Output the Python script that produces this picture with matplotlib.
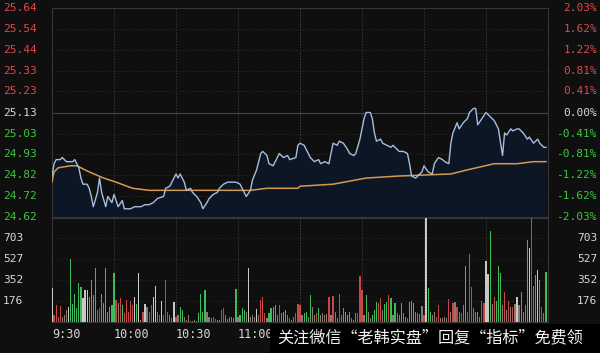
import matplotlib
matplotlib.use('Agg')
import matplotlib.pyplot as plt
import matplotlib.transforms as mtransforms
from matplotlib.patches import Rectangle

# ---------------- data ----------------
prev_close = 25.13
price_labels = ['25.64', '25.54', '25.44', '25.33', '25.23', '25.13',
                '25.03', '24.93', '24.82', '24.72', '24.62']
pct_values = [2.03, 1.62, 1.22, 0.81, 0.41, 0.00,
              -0.41, -0.81, -1.22, -1.62, -2.03]
pct_labels = ['2.03%', '1.62%', '1.22%', '0.81%', '0.41%', '0.00%',
              '-0.41%', '-0.81%', '-1.22%', '-1.62%', '-2.03%']
vol_ticks = [176, 352, 527, 703]
time_ticks = [0, 30, 60, 90]
time_labels = ['9:30', '10:00', '10:30', '11:00']

price_min = [0, 1, 2, 4, 5, 7, 9, 10, 11, 12, 13, 14, 15, 17, 18, 19, 20, 22, 23, 24,
             26, 27, 29, 30, 32, 34, 35, 38, 40, 43, 45, 47, 49, 51, 54, 55, 57, 59, 60, 61,
             62, 64, 65, 67, 68, 70, 72, 73, 75, 76, 78, 80, 81, 83, 85, 89, 91, 93, 94, 96,
             97, 99, 101, 102, 104, 105, 107, 109, 110, 112, 114, 115, 118, 119,
             120, 122, 125, 127, 129, 130, 132, 134, 135, 136, 138, 139, 141, 143, 144, 146,
             147, 149, 151, 152, 154, 155, 156, 157, 159, 160, 162, 164, 165, 167, 168, 170,
             172, 173, 174, 176, 177, 179, 180, 182, 184, 185, 187, 189, 190, 192, 193, 194,
             196, 197, 199, 201, 202, 204, 205, 206, 208, 210, 211, 213, 214, 216, 218, 219,
             220, 222, 223, 225, 226, 228, 230, 231, 233, 235, 236, 238, 239]
price_val = [24.82, 24.88, 24.90, 24.90, 24.91, 24.89, 24.89, 24.89, 24.90, 24.88,
             24.86, 24.81, 24.78, 24.78, 24.76, 24.72, 24.67, 24.74, 24.81, 24.74,
             24.67, 24.72, 24.69, 24.73, 24.67, 24.70, 24.66, 24.66, 24.67, 24.67,
             24.68, 24.68, 24.69, 24.71, 24.72, 24.76, 24.77, 24.81, 24.83, 24.81,
             24.83, 24.79, 24.75, 24.76, 24.74, 24.72, 24.69, 24.66, 24.69, 24.71,
             24.73, 24.74, 24.76, 24.78, 24.79, 24.79, 24.78, 24.74, 24.72, 24.75,
             24.80, 24.85, 24.93, 24.94, 24.92, 24.88, 24.87, 24.91, 24.93, 24.91,
             24.92, 24.90, 24.91, 24.97,
             24.98, 24.97, 24.91, 24.89, 24.90, 24.88, 24.89, 24.88, 24.93, 24.98,
             24.97, 24.99, 24.98, 24.95, 24.93, 24.92, 24.93, 25.00, 25.10, 25.13,
             25.13, 25.10, 25.03, 24.99, 25.00, 24.98, 24.97, 24.96, 24.97, 24.95,
             24.94, 24.94, 24.93, 24.88, 24.82, 24.81, 24.82, 24.84, 24.87, 24.84,
             24.83, 24.88, 24.91, 24.90, 24.89, 24.88, 24.98, 25.03, 25.08, 25.05,
             25.08, 25.10, 25.13, 25.15, 25.15, 25.07, 25.10, 25.13, 25.12, 25.10,
             25.09, 25.05, 24.92, 25.03, 25.02, 25.05, 25.04, 25.05, 25.05, 25.03,
             25.00, 25.01, 24.98, 25.00, 24.98, 24.96, 24.96]

avg_min = [0, 1, 3, 9, 12, 18, 25, 31, 39, 47, 55, 96, 104, 119,
           120, 136, 152, 168, 193, 201, 214, 225, 233, 239]
avg_val = [24.79, 24.84, 24.86, 24.87, 24.87, 24.84, 24.81, 24.79, 24.76, 24.75,
           24.75, 24.75, 24.76, 24.76, 24.77, 24.78, 24.81, 24.82, 24.83, 24.85,
           24.88, 24.88, 24.89, 24.89]

vol_values = [288, 59, 142, 45, 137, 45, 59, 101, 128, 525,
              148, 235, 114, 324, 296, 204, 268, 268, 212, 352,
              226, 455, 101, 114, 232, 156, 455, 87, 128, 142,
              408, 184, 156, 198, 142, 73, 184, 87, 176, 142,
              212, 148, 408, 17, 87, 148, 128, 87, 142, 212,
              305, 87, 59, 176, 59, 352, 87, 59, 31, 165,
              45, 59, 128, 101, 45, 17, 59, 8, 8, 17,
              8, 73, 232, 87, 268, 87, 45, 31, 45, 25,
              17, 17, 101, 114, 59, 25, 45, 45, 31, 277,
              45, 59, 114, 101, 87, 455, 45, 59, 45, 109,
              59, 184, 212, 73, 31, 73, 114, 128, 142, 59,
              142, 73, 87, 101, 59, 31, 17, 45, 73, 148,
              142, 59, 73, 87, 45, 226, 128, 59, 73, 114,
              59, 73, 59, 64, 212, 59, 218, 87, 31, 235,
              59, 120, 87, 59, 87, 31, 17, 73, 73, 386,
              268, 59, 226, 87, 31, 59, 101, 170, 156, 204,
              101, 148, 165, 226, 204, 59, 156, 73, 59, 162,
              73, 45, 31, 170, 176, 156, 87, 73, 64, 137,
              59, 874, 282, 87, 59, 87, 45, 142, 31, 31,
              45, 31, 193, 87, 156, 165, 128, 87, 73, 142,
              472, 87, 570, 296, 114, 87, 81, 45, 176, 156,
              511, 400, 763, 148, 212, 176, 472, 408, 142, 249,
              101, 176, 128, 128, 148, 212, 142, 254, 87, 142,
              687, 623, 874, 305, 394, 436, 352, 128, 73, 416]
vol_colors = ("wrrrrnnnwg" "gggggwwwgg" "ggrrgggggg" "grnrgrrrrr"
              "wgwnrwnrrw" "wnrwrrrnnw" "rnggnnnnnn" "nggggnnnrr"
              "nnrrnnnnng" "ngggnwnnnw" "nrrrnggggn" "rnggnrnnrr"
              "rnggngnnrg" "nnnnrnrnnr" "nggggnnnrr" "rngnngggrr"
              "nggrgngnng" "nnrgggnnnn" "rwggnnrrnn" "nnrnrnrnrn"
              "grrrnngnrr" "wwgnrgggnr" "nrnrnwngnn" "gwrngwgrng")
banner_text = '关注微信“老韩实盘”回复“指标”免费领'

# ---------------- style ----------------
W, H = 600, 353
BG = '#0f0f0f'
RED = '#e04848'
GREEN = '#3cc83c'
WHITE = '#d8d8d8'
bar_cmap = {'r': '#c84646', 'g': '#3cbc5a', 'w': '#c8c8c8', 'n': '#8a7a70'}

fig = plt.figure(figsize=(6, 3.53), dpi=100)
fig.patch.set_facecolor(BG)


def box(x0, y0, x1, y1):
    return [x0 / W, 1 - y1 / H, (x1 - x0) / W, (y1 - y0) / H]


axp = fig.add_axes(box(52, 8, 548, 217))
axv = fig.add_axes(box(52, 218, 548, 322))

lo = prev_close * (1 + pct_values[-1] / 100)
hi = prev_close * (1 + pct_values[0] / 100)
for ax in (axp, axv):
    ax.set_facecolor(BG)
    ax.set_xlim(0, 240)
    ax.set_xticks([])
    ax.set_yticks([])
    for s in ax.spines.values():
        s.set_color('#363636')
        s.set_linewidth(0.8)
    for m in range(30, 240, 30):
        ax.axvline(m, color='#363636' if m != 120 else '#464646',
                   lw=0.7, ls=(0, (1.5, 1.5)), zorder=1)

axp.set_ylim(lo, hi)
tick_pos = [prev_close * (1 + p / 100) for p in pct_values]
for p, y in zip(pct_values, tick_pos):
    if p == 0:
        axp.axhline(y, color='#444444', lw=0.8, zorder=1)
    else:
        axp.axhline(y, color='#272727', lw=0.6, ls=(0, (2, 2)), zorder=1)

axp.fill_between(price_min, price_val, lo, color='#0d1624', zorder=2, lw=0)
axp.plot(price_min, price_val, color='#a6bddf', lw=1.0, zorder=4)
axp.plot(avg_min, avg_val, color='#d59a50', lw=1.1, zorder=3)

axv.set_ylim(0, 870)
for v in vol_ticks:
    axv.axhline(v, color='#222222', lw=0.6, ls=(0, (2, 2)), zorder=1)
axv.bar(range(len(vol_values)), vol_values, width=0.6,
        color=[bar_cmap[c] for c in vol_colors], zorder=3, lw=0)

mono = 'DejaVu Sans Mono'
tp = mtransforms.blended_transform_factory(fig.transFigure, axp.transData)
for lab, pl, p, y in zip(price_labels, pct_labels, pct_values, tick_pos):
    c = RED if p > 0 else (GREEN if p < 0 else WHITE)
    fig.text(3 / W, y, lab, transform=tp, ha='left', va='center',
             color=c, fontsize=8, family=mono)
    fig.text(597 / W, y, pl, transform=tp, ha='right', va='center',
             color=c, fontsize=8, family=mono)

tv = mtransforms.blended_transform_factory(fig.transFigure, axv.transData)
for v in vol_ticks:
    fig.text(3 / W, v, str(v), transform=tv, ha='left', va='center',
             color=WHITE, fontsize=8, family=mono)
    fig.text(597 / W, v, str(v), transform=tv, ha='right', va='center',
             color=WHITE, fontsize=8, family=mono)

tt = mtransforms.blended_transform_factory(axv.transData, fig.transFigure)
for m, lab in zip(time_ticks, time_labels):
    fig.text(m, 1 - 335 / H, lab, transform=tt, ha='left', va='center',
             color=WHITE, fontsize=8.5, family=mono, zorder=2)

fig.add_artist(Rectangle((270 / W, 0), (W - 270) / W, (353 - 324) / H,
                         transform=fig.transFigure, facecolor='#000000',
                         edgecolor='none', zorder=10))
fig.text(277 / W, 1 - 338 / H, banner_text, ha='left', va='center',
         color='#f2f2f2', fontsize=11.6, fontweight='medium',
         family=['Noto Sans CJK SC', 'DejaVu Sans'], zorder=11)

fig.savefig('out.png', dpi=100, facecolor=BG)
